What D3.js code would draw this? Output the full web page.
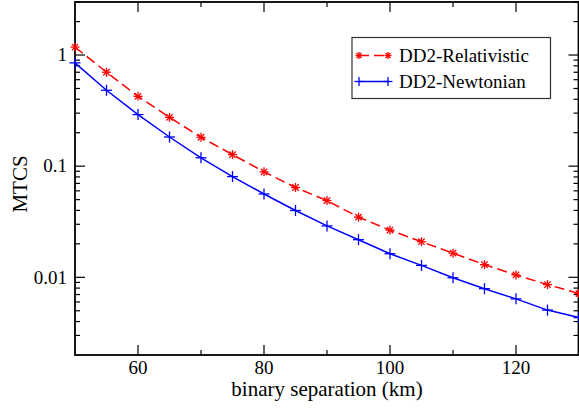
<!DOCTYPE html>
<html><head><meta charset="utf-8">
<script src="https://cdn.jsdelivr.net/npm/d3@7"></script>
<style>
html,body{margin:0;padding:0;background:#fff;}
text{font-family:"Liberation Serif","Times New Roman",Times,serif;}
</style></head>
<body><svg id="c" width="579" height="408"></svg>
<script>
const separation = [50,55,60,65,70,75,80,85,90,95,100,105,110,115,120,125,130];
const relativistic = [1.18,0.70,0.425,0.275,0.182,0.127,0.089,0.0643,0.049,0.0348,0.0266,0.0209,0.0165,0.0130,0.0105,0.0086,0.00715];
const newtonian = [0.85,0.482,0.291,0.183,0.119,0.0806,0.0562,0.0399,0.0290,0.0218,0.0163,0.0128,0.0099,0.0079,0.0064,0.00507,0.00434];
const xMajor = [60,80,100,120];
const xMinor = [70,90,110];
const yMajor = [0.01,0.1,1];
const yMajorLabels = ["0.01","0.1","1"];
const seriesNames = ["DD2-Relativistic","DD2-Newtonian"];

const FF='"Liberation Serif","Times New Roman",Times,serif';
const L=75,R=578.5,T=2,B=355;
const svg=d3.select("#c");
const x=d3.scaleLinear().domain([50,130]).range([L,579]);
const y=d3.scaleLog().domain([0.002,3]).range([B,T]);

const yMinor=[];
[0.001,0.01,0.1,1].forEach(d=>{for(let k=2;k<=9;k++){const v=d*k; if(v>0.0021&&v<3.1&&!yMajor.includes(v)) yMinor.push(v);}});

const g=svg.append("g");
g.append("rect").attr("x",L).attr("y",T).attr("width",R-L).attr("height",B-T)
 .attr("fill","none").attr("stroke","#000").attr("stroke-width",1.8);

const tk=g.append("g").attr("stroke","#000").attr("stroke-width",1.2);
xMajor.forEach(v=>{tk.append("line").attr("x1",x(v)).attr("x2",x(v)).attr("y1",B).attr("y2",B-10);
 tk.append("line").attr("x1",x(v)).attr("x2",x(v)).attr("y1",T).attr("y2",T+10);});
xMinor.forEach(v=>{tk.append("line").attr("x1",x(v)).attr("x2",x(v)).attr("y1",B).attr("y2",B-5);
 tk.append("line").attr("x1",x(v)).attr("x2",x(v)).attr("y1",T).attr("y2",T+5);});
yMajor.forEach(v=>{tk.append("line").attr("x1",L).attr("x2",L+10).attr("y1",y(v)).attr("y2",y(v));
 tk.append("line").attr("x1",R).attr("x2",R-10).attr("y1",y(v)).attr("y2",y(v));});
yMinor.forEach(v=>{tk.append("line").attr("x1",L).attr("x2",L+5).attr("y1",y(v)).attr("y2",y(v));
 tk.append("line").attr("x1",R).attr("x2",R-5).attr("y1",y(v)).attr("y2",y(v));});

const fs=19;
function txt(sel){return sel.append("text").attr("font-family",FF).attr("fill","#000");}
xMajor.forEach(v=>txt(g).attr("x",x(v)).attr("y",373.5).attr("text-anchor","middle")
 .attr("font-size",fs).text(v));
yMajor.forEach((v,i)=>txt(g).attr("x",67).attr("y",y(v)).attr("dy","0.33em").attr("text-anchor","end")
 .attr("font-size",fs).text(yMajorLabels[i]));
txt(g).attr("x",(L+579)/2).attr("y",396).attr("text-anchor","middle").attr("font-size",21)
 .text("binary separation (km)");
txt(g).attr("transform","translate(27,184) rotate(-90)").attr("text-anchor","middle")
 .attr("font-size",21).text("MTCS");

function star(sel,cx,cy,r,color){
 for(let k=0;k<4;k++){const a=k*Math.PI/4;
  sel.append("line").attr("x1",cx-r*Math.cos(a)).attr("y1",cy-r*Math.sin(a))
   .attr("x2",cx+r*Math.cos(a)).attr("y2",cy+r*Math.sin(a)).attr("stroke",color).attr("stroke-width",1.3);}
}
function plus(sel,cx,cy,r,color){
 sel.append("line").attr("x1",cx-r).attr("x2",cx+r).attr("y1",cy).attr("y2",cy).attr("stroke",color).attr("stroke-width",1.3);
 sel.append("line").attr("x1",cx).attr("x2",cx).attr("y1",cy-r).attr("y2",cy+r).attr("stroke",color).attr("stroke-width",1.3);
}
const line=d3.line().x(d=>x(d[0])).y(d=>y(d[1]));
const rel=separation.map((s,i)=>[s,relativistic[i]]);
const newt=separation.map((s,i)=>[s,newtonian[i]]);
g.append("path").datum(newt).attr("d",line).attr("fill","none").attr("stroke","#0000ff").attr("stroke-width",1.5);
g.append("path").datum(rel).attr("d",line).attr("fill","none").attr("stroke","#ff0000").attr("stroke-width",1.5)
 .attr("stroke-dasharray","10,5");
const mk=g.append("g");
newt.forEach(d=>plus(mk,x(d[0]),y(d[1]),5.5,"#0000ff"));
rel.forEach(d=>star(mk,x(d[0]),y(d[1]),4.5,"#ff0000"));

const lg=g.append("g");
lg.append("rect").attr("x",352).attr("y",37.5).attr("width",198.5).attr("height",61)
 .attr("fill","#fff").attr("stroke","#333").attr("stroke-width",1.2);
lg.append("line").attr("x1",359).attr("x2",389).attr("y1",55.5).attr("y2",55.5).attr("stroke","#ff0000")
 .attr("stroke-width",1.5).attr("stroke-dasharray","10,5");
star(lg,359,55.5,3.5,"#ff0000"); star(lg,388,55.5,3.5,"#ff0000");
lg.append("line").attr("x1",359).attr("x2",389).attr("y1",81.5).attr("y2",81.5).attr("stroke","#0000ff").attr("stroke-width",1.5);
plus(lg,359,81.5,4.5,"#0000ff"); plus(lg,388,81.5,4.5,"#0000ff");
txt(lg).attr("x",399).attr("y",55.5).attr("dy","0.33em").attr("font-size",fs).text(seriesNames[0]);
txt(lg).attr("x",399).attr("y",81.5).attr("dy","0.33em").attr("font-size",fs).text(seriesNames[1]);
</script></body></html>
